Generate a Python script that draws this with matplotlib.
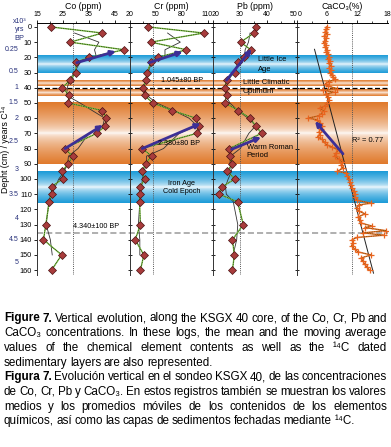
import matplotlib.pyplot as plt
import numpy as np
import pandas as pd
from matplotlib.colors import to_rgb
from matplotlib.transforms import blended_transform_factory, ScaledTranslation

NARROW = ['Liberation Sans Narrow', 'Liberation Sans', 'DejaVu Sans']
plt.rcParams['font.family'] = NARROW
plt.rcParams['axes.linewidth'] = 0.7

W, H = 391, 447

# ---- data ----
depth = [0, 4, 10, 15, 20, 23, 30, 35, 40, 45, 50, 55, 60, 65, 70, 80, 85, 90,
         95, 100, 105, 110, 115, 130, 140, 150, 160]
co = [20.4, 40.2, 27.8, 48.5, 35.1, 30.2, 29.9, 27.8, 24.7, 27.5, 26.9, 40.2, 41.7,
      41.3, 38.0, 25.6, 28.8, 26.9, 24.7, 24.9, 20.6, 20.6, 19.7, 18.4, 17.5, 24.5, 20.6]
cr = [41, 105, 44, 85, 52, 44, 40, 38, 35, 37, 46, 69, 96, 99, 97, 34, 45, 38,
      34, 37, 32, 31, 31, 32, 26, 36, 32]
pb = [35.8, 35.2, 30.2, 34.0, 31.5, 29.4, 28.0, 25.0, 24.4, 25.0, 24.4, 29.4, 33.7,
      35.8, 38.0, 26.0, 26.3, 27.2, 25.3, 28.1, 23.5, 22.2, 29.1, 31.2, 27.2, 27.9, 27.2]

caco3_depth = [0, 1.5, 3, 4.5, 6, 7.5, 9, 10.5, 12, 13.5, 15, 16.5, 18, 19.5, 21, 22.5,
               24, 25.5, 27, 28.5, 30, 31.5, 33, 34.5, 36, 37.5, 39, 40.5, 41.5, 43, 44,
               46, 48, 50, 52, 53.5, 55, 57, 58.5, 60, 61, 63, 65, 67, 69, 71, 72.5, 74,
               76, 77.5, 79, 81, 83, 85, 87, 89, 91, 93, 95, 96, 98, 100, 102, 104, 106,
               108, 110, 112, 114, 116, 117, 119, 121, 123, 125, 127, 129, 131, 132, 134,
               135.5, 137, 138.5, 140, 142, 144, 146, 148, 150, 152, 154, 156, 158, 160]
caco3 = [5.9, 5.8, 5.6, 6.0, 5.4, 5.7, 5.5, 5.3, 5.7, 5.6, 6.0, 5.8, 6.2, 6.4, 6.1, 6.5,
         6.3, 6.7, 6.4, 6.8, 6.5, 7.0, 7.1, 7.6, 6.3, 5.7, 6.2, 8.0, 5.2, 7.5, 5.8,
         6.1, 6.3, 6.0, 5.6, 4.5, 5.3, 4.9, 4.3, 2.2, 4.0, 4.6, 5.0, 4.8, 4.4, 4.6, 4.1, 5.0,
         5.5, 5.9, 7.0, 8.3, 7.8, 7.5, 8.4, 9.0, 8.8, 9.2, 8.0, 9.8, 10.0, 10.4, 10.6, 10.8, 11.0,
         11.3, 11.5, 11.6, 12.0, 14.8, 12.4, 12.0, 12.3, 13.6, 12.2, 12.5, 12.8, 15.0, 13.6, 17.8,
         13.2, 17.4, 12.0, 11.0, 11.2, 10.9, 11.5, 12.2, 14.8, 12.8, 13.2, 13.5, 14.0, 14.5]

co_mean, cr_mean, pb_mean, caco3_mean = 28.7, 46.5, 30.0, 10.9

# trend arrows: (value tail, depth tail, value head, depth head)
co_arrows = [(30.3, 23.5, 45.4, 16.0), (25.8, 80.0, 40.4, 64.5)]
cr_arrows = [(42.0, 23.5, 80.8, 16.3), (34.2, 80.0, 101.5, 63.5)]
pb_arrows = [(25.0, 35.0, 34.3, 14.5), (26.9, 80.5, 37.8, 72.5)]
caco3_arrows = [(9.2, 83.5, 3.6, 62.0)]
caco3_trend_x = [3.5, 15.3]
caco3_trend_d = [14.7, 162.0]

band_top = [19.0, 34.9, 41.4, 49.8, 95.2]
band_bottom = [30.3, 38.6, 45.4, 90.3, 115.6]
band_color = ['#1b9bd8', '#e07a2c', '#e07a2c', '#e07a2c', '#1b9bd8']

year_labels = ['0.25', '0.5', '1', '1.5', '2', '2.5', '3', '3.5', '4', '4.5', '5']
year_depths = [15, 29.4, 40, 50, 60, 75.4, 94, 110.5, 126, 140, 155]

caption = [
    "Figure 7. Vertical evolution, along the KSGX 40 core, of the Co, Cr, Pb and",
    "CaCO₃ concentrations. In these logs, the mean and the moving average",
    "values of the chemical element contents as well as the ¹⁴C dated",
    "sedimentary layers are also represented.",
    "Figura 7. Evolución vertical en el sondeo KSGX 40, de las concentraciones",
    "de Co, Cr, Pb y CaCO₃. En estos registros también se muestran los valores",
    "medios y los promedios móviles de los contenidos de los elementos",
    "químicos, así como las capas de sedimentos fechadas mediante ¹⁴C.",
]
caption_justified = [True, True, True, False, True, True, True, False]


def fx(x):
    return x / W


def fy(y):
    return 1 - y / H


def nudge(label, dx):
    label.set_transform(label.get_transform() + ScaledTranslation(dx / 100, 0, fig.dpi_scale_trans))


fig = plt.figure(figsize=(W / 100, H / 100), dpi=100)
ylim = (163.2, -2.6)
bot = fy(275)
hgt = 252 / H

# background bands
bg = fig.add_axes([fx(37), bot, fx(388) - fx(37), hgt])
bg.set_xlim(0, 1)
bg.set_ylim(*ylim)
bg.axis('off')
t = np.linspace(0, 1, 200)
f = np.abs(2 * t - 1) ** 0.55
for top, bottom, c in zip(band_top, band_bottom, band_color):
    rgb = np.ones((200, 3)) * (1 - f[:, None]) + np.array(to_rgb(c)) * f[:, None]
    bg.imshow(rgb[:, None, :], extent=[0, 1, bottom, top], aspect='auto',
              interpolation='bilinear', zorder=0)
bg.set_ylim(*ylim)
bg.axhline(39.9, color='k', lw=0.9, ls=(0, (4, 2)), zorder=2)
bg.axhline(135.3, color='#9a9a9a', lw=1.1, ls=(0, (4, 2)), zorder=2)

panels = [
    ('Co (ppm)', 37, 130, (15, 50.8), [15, 25, 35, 45]),
    ('Cr (ppm)', 130, 213, (20, 115.7), [20, 50, 80, 110]),
    ('Pb (ppm)', 213, 297, (20, 51.1), [20, 30, 40, 50]),
    ('CaCO₃(%)', 297, 388, (0, 18.2), [0, 6, 12, 18]),
]
series = [(co, co_mean, co_arrows), (cr, cr_mean, cr_arrows), (pb, pb_mean, pb_arrows)]

axes = []
for i, (title, x0, x1, xl, xt) in enumerate(panels):
    ax = fig.add_axes([fx(x0), bot, fx(x1) - fx(x0), hgt])
    ax.set_facecolor('none')
    ax.set_xlim(*xl)
    ax.set_ylim(*ylim)
    for s in ['right', 'bottom']:
        ax.spines[s].set_visible(False)
    ax.spines['left'].set_color('#333333')
    ax.xaxis.tick_top()
    ax.set_xticks(xt)
    ax.set_xticks([(a + b) / 2 for a, b in zip(xt[:-1], xt[1:])], minor=True)
    ax.tick_params(axis='x', which='major', labelsize=5.0, length=2.5, width=0.6, pad=1)
    ax.tick_params(axis='x', which='minor', length=1.5, width=0.5)
    labs = ax.get_xticklabels()
    if i == 1:
        nudge(labs[-1], -1.5)
    if i >= 2:
        nudge(labs[0], 2.5)
    ax.set_yticks(range(0, 161, 10))
    if i == 0:
        ax.tick_params(axis='y', labelsize=5.3, length=2.5, width=0.6, pad=1)
    else:
        ax.tick_params(axis='y', labelleft=False, direction='inout', length=3.5, width=0.6)
    ax.set_title(title, fontsize=6.3, pad=1.5)
    axes.append(ax)

for ax, (vals, mean, arrows) in zip(axes[:3], series):
    ma = pd.Series(vals).rolling(3, center=True).mean()
    ax.axvline(mean, color='#555555', lw=0.7, ls=(0, (1, 1.2)), zorder=1)
    ax.plot(ma, depth, color='#333333', lw=0.6, zorder=2)
    ax.plot(vals, depth, color='#7cc143', lw=1.0, zorder=3)
    ax.plot(vals, depth, color='k', lw=0.5, ls=(0, (1, 1.5)), zorder=3)
    ax.plot(vals, depth, 'D', ms=4.0, mfc='#a83c3c', mec='#4a1010', mew=0.5, zorder=5)
    for xa, da, xb, db in arrows:
        ax.annotate('', xy=(xb, db), xytext=(xa, da), zorder=6,
                    arrowprops=dict(arrowstyle='-|>', color='#3c2f96', lw=2.0,
                                    mutation_scale=7, shrinkA=0, shrinkB=0))

ax = axes[3]
ax.axvline(caco3_mean, color='#555555', lw=0.7, ls=(0, (1, 1.2)), zorder=1)
ax.plot(caco3_trend_x, caco3_trend_d, color='#222222', lw=0.7, zorder=2)
ax.plot(caco3, caco3_depth, color='#e8641e', lw=1.0, zorder=3)
ax.plot(caco3, caco3_depth, color='#3a5a10', lw=0.5, ls=(0, (1, 1.5)), zorder=3)
ax.plot(caco3, caco3_depth, '+', ms=4, mew=0.9, color='#e8641e', zorder=4)
for xa, da, xb, db in caco3_arrows:
    ax.annotate('', xy=(xb, db), xytext=(xa, da), zorder=6,
                arrowprops=dict(arrowstyle='-|>', color='#3c2f96', lw=2.0,
                                mutation_scale=7, shrinkA=0, shrinkB=0))
ax.text(14.1, 75, 'R² = 0.77', fontsize=5.4, ha='center', va='center')

# event labels
axes[2].text(36.5, 21.3, 'Little Ice', fontsize=5.4, va='center', clip_on=False, zorder=7)
axes[2].text(36.5, 27.8, 'Age', fontsize=5.4, va='center', clip_on=False, zorder=7)
axes[2].text(31.0, 36.6, 'Little Climatic', fontsize=5.6, va='center', clip_on=False, zorder=7)
axes[2].text(31.0, 42.5, 'Optimum', fontsize=5.6, va='center', clip_on=False, zorder=7)
axes[2].text(32.5, 79.4, 'Warm Roman', fontsize=5.4, va='center', clip_on=False, zorder=7)
axes[2].text(32.5, 84.9, 'Period', fontsize=5.4, va='center', clip_on=False, zorder=7)
axes[1].text(80, 35.5, '1.045±80 BP', fontsize=5.2, ha='center', va='center', zorder=7)
axes[1].text(76.3, 77, '2.380±80 BP', fontsize=5.2, ha='center', va='center', zorder=7)
axes[1].text(79.6, 102.8, 'Iron Age', fontsize=5.2, ha='center', va='center', zorder=7)
axes[1].text(79.6, 108.3, 'Cold Epoch', fontsize=5.2, ha='center', va='center', zorder=7)
axes[0].text(37.7, 131.4, '4.340±100 BP', fontsize=5.2, ha='center', va='center', zorder=7)

# years axis on the left
tr = blended_transform_factory(fig.transFigure, axes[0].transData)
navy = '#27307a'
for lab, d in zip(year_labels, year_depths):
    axes[0].text(fx(18.5), d, lab, transform=tr, fontsize=5.0, color=navy,
                 ha='right', va='center')
axes[0].text(fx(19.5), -3.4, 'x10³', transform=tr, fontsize=5.0, color=navy,
             ha='center', va='center')
axes[0].text(fx(19.5), 1.6, 'yrs', transform=tr, fontsize=5.0, color=navy,
             ha='center', va='center')
axes[0].text(fx(19.5), 7.5, 'BP', transform=tr, fontsize=5.3, color=navy,
             ha='center', va='center')
fig.text(fx(5.5), fy(149), 'Depht (cm) / years C¹⁴', rotation=90, fontsize=6.3,
         ha='center', va='center')

# justified caption
r = fig.canvas.get_renderer()
cx0, cx1 = 4, 387
for k, (line, just) in enumerate(zip(caption, caption_justified)):
    yb = 321.5 + k * 14.7
    words = line.split(' ')
    bold_n = 2 if line.startswith(('Figure 7.', 'Figura 7.')) else 0
    objs = [fig.text(0, fy(yb), w, fontsize=8.4, va='baseline',
                     fontweight='bold' if j < bold_n else 'normal')
            for j, w in enumerate(words)]
    widths = [o.get_window_extent(r).width for o in objs]
    gap = (cx1 - cx0 - sum(widths)) / (len(objs) - 1) if just else 2.4
    x = cx0
    for o, wd in zip(objs, widths):
        o.set_x(fx(x))
        x += wd + gap

fig.savefig('out.png', dpi=100)
